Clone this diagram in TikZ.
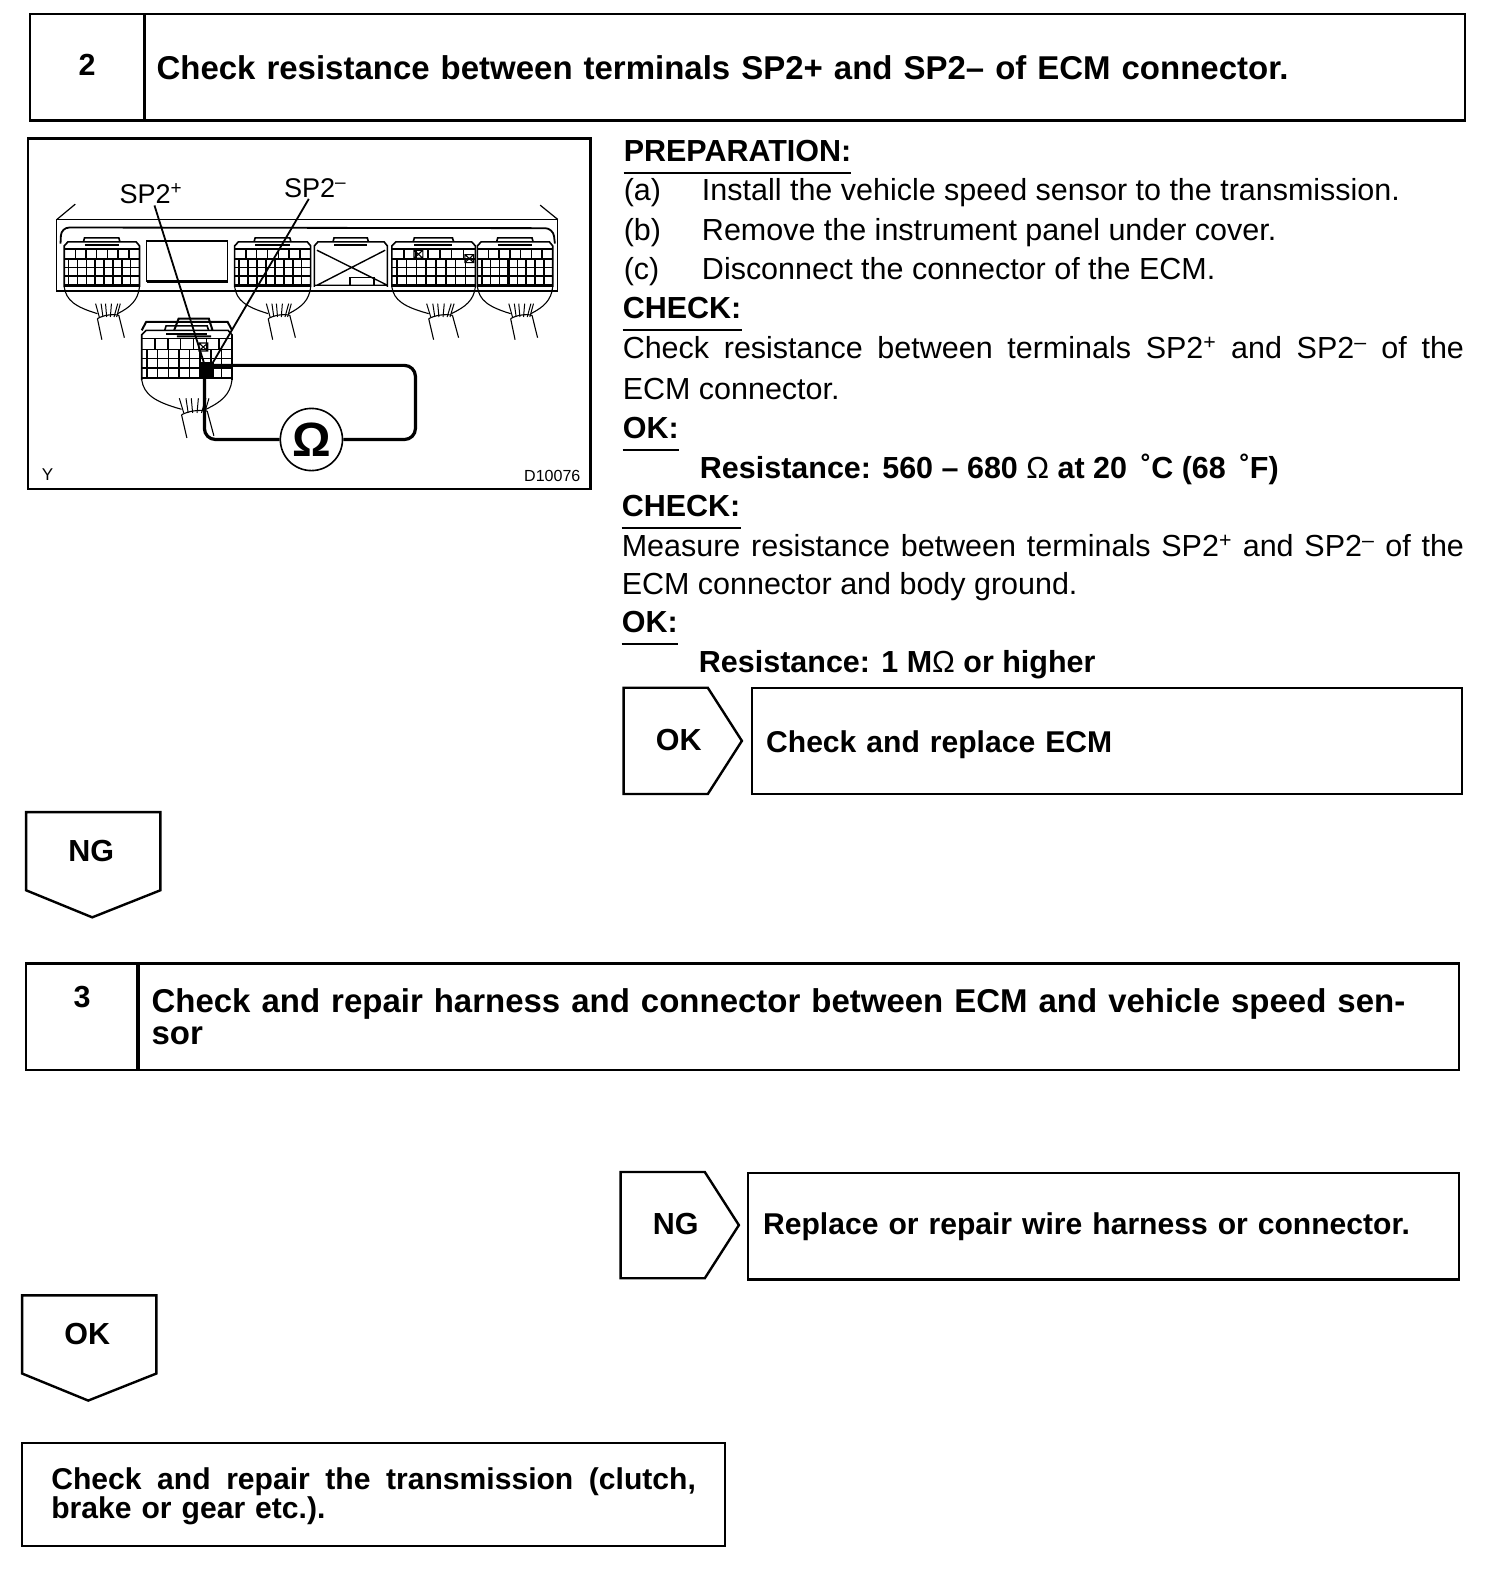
\documentclass[tikz,border=0pt]{standalone}
\usepackage{fontspec}
\setmainfont{Liberation Sans}
\newcommand{\txtfont}{\fontsize{30.4}{32}\selectfont}
\newcommand{\hdfont}{\fontsize{32.9}{32}\selectfont}
\newcommand{\boxfont}{\fontsize{30}{32}\selectfont}
\newcommand{\connbody}{
\draw[line width=1.6pt] (0,135) -- (0,12) -- (10,0) -- (195,0) -- (204,12) -- (204,135);
\draw[line width=1.6pt] (52,0) -- (55,-12) -- (148,-12) -- (151,0);
\draw[line width=2pt] (55,10) -- (148,10);
}
\tikzset{
crossbody/.pic={\connbody},
conn/.pic={
\connbody
\foreach \y in {22,52,77,102} {\draw[line width=1.5pt] (0,\y) -- (204,\y);}
\draw[line width=2.8pt] (0,130) -- (204,130);
\foreach \x in {30,59,...,190} {\draw[line width=1.5pt] (\x,22) -- (\x,52);}
\foreach \x in {12,36,...,200} {\draw[line width=1.5pt] (\x,52) -- (\x,130);}
\foreach \x in {84,132} {\draw[line width=2.4pt] (\x,52) -- (\x,130);}
},
hood/.pic={
\draw[line width=1.1pt] (0,135) .. controls (5,175) and (30,195) .. (90,215);
\draw[line width=1.1pt] (204,135) .. controls (200,175) and (180,195) .. (145,215);
\draw[line width=1.1pt] (90,230) -- (102,293);
\draw[line width=1.1pt] (148,220) -- (163,287);
\draw[line width=1.1pt] (90,230) .. controls (105,220) and (130,215) .. (148,220);
\foreach \xa/\xb in {95/85,105/100,115/112,125/128,135/145,142/152} {\draw[line width=1pt] (\xa,225) -- (\xb,185);}
}
}
\begin{document}
\begin{tikzpicture}[
x=1pt, y=-1pt,
cell/.style={draw, line width=2.4pt, anchor=north west, minimum height=106pt, inner xsep=14pt, inner ysep=0pt, align=left, font=\boxfont\bfseries},
numcell/.style={draw, line width=2.4pt, anchor=north west, minimum height=106pt, align=center},
pent/.style={draw, line width=2.4pt, line join=miter},
tag/.style={font=\txtfont\bfseries, inner sep=0pt},
line/.style={anchor=base west, inner sep=0pt, font=\txtfont},
strong/.style={anchor=base west, inner sep=0pt, font=\txtfont\bfseries},
head/.style={anchor=base west, inner xsep=0pt, inner ysep=11pt, font=\txtfont\bfseries},
probe/.style={line width=1.8pt},
wire/.style={line width=3.2pt, rounded corners=11pt},
lbl/.style={font=\fontsize{27}{28}\selectfont, inner sep=1pt}
]
\useasboundingbox (0,0) rectangle (1500,1568);
\node[numcell, minimum width=114pt] (num2) at (29,13) {};
\node[tag] (numtxt2) at (87,65) {2};
\node[cell, minimum width=1317pt, text width=1293pt, inner xsep=12pt, font=\hdfont\bfseries] (step2) at (143,13) {Check resistance between terminals SP2+ and SP2– of ECM connector.};
\draw[line width=2.4pt] (28,138) rectangle (589,488);
\begin{scope}[shift={(19.9,129.7)}, x=.368pt, y=-.333pt]
\draw[line width=1.2pt] (100,268) rectangle (1458,482);
\draw[line width=1.2pt] (100,268) -- (150,222) (1458,268) -- (1410,225);
\draw[line width=1.8pt, rounded corners=8pt] (110,340) -- (112,292) -- (1445,294) -- (1450,340);
\draw[line width=1.6pt] (343,333) rectangle (563,452);
\draw[line width=1.4pt] (345,455) -- (565,455);
\pic at (120,335) {conn};
\pic at (120,335) {hood};
\pic[xscale=1.01] at (582,335) {conn};
\pic[xscale=1.01] at (582,335) {hood};
\pic[xscale=.97] at (798,335) {crossbody};
\draw[line width=1.4pt] (798,465) -- (996,465) (805,360) -- (996,465) (805,465) -- (990,360);
\draw[line width=1.4pt] (895,465) -- (895,442) -- (960,442) -- (960,465);
\pic[xscale=1.11] at (1008,335) {conn};
\pic[xscale=1.11] at (1008,335) {hood};
\pic at (1240,335) {conn};
\pic at (1240,335) {hood};
\pic[xscale=1.2, yscale=1.1] at (330,600) {conn};
\pic[xscale=1.2, yscale=1.1] at (330,600) {hood};
\draw[line width=2pt] (330,600) -- (342,575) -- (563,575) -- (575,600);
\draw[line width=2pt] (418,600) -- (430,565) -- (512,565) -- (522,600) (425,618) -- (518,618);
\foreach \cx/\cy in {1080/372,1218/385,497/650} {\draw[line width=1.1pt] (\cx-12,\cy-12) rectangle (\cx+12,\cy+12) (\cx-12,\cy-12) -- (\cx+12,\cy+12) (\cx-12,\cy+12) -- (\cx+12,\cy-12);}
\fill (490,695) rectangle (525,745);
\coordinate (plus) at (500,702);
\coordinate (minus) at (520,702);
\coordinate (joint) at (505,705);
\coordinate (jointb) at (500,745);
\node[lbl] (spplus) at (355,192) {SP2\textsuperscript{+}};
\node[lbl] (spminus) at (800,174) {SP2\textsuperscript{--}};
\draw[probe] (spplus) -- (plus);
\draw[probe] (spminus) -- (minus);
\node[draw, circle, line width=1.6pt, fill=white, minimum size=62pt, inner sep=0pt, font=\fontsize{48}{50}\selectfont\bfseries] (meter) at (790,927) {Ω};
\draw[wire] (meter.east) -- (1072,927) -- (1072,705) -- (joint);
\draw[wire] (meter.west) -- (500,927) -- (jointb);
\node[font=\fontsize{17}{19}\selectfont, inner sep=0pt] (ymark) at (75,1032) {Y};
\node[font=\fontsize{16}{18}\selectfont, inner sep=0pt] (figid) at (1443,1036) {D10076};
\end{scope}
\node[head] (h1) at (622,161) {PREPARATION:};
\node[line] (pa) at (622,200) {(a)};
\node[line] (ta) at (700,200) {Install the vehicle speed sensor to the transmission.};
\node[line] (pb) at (622,240) {(b)};
\node[line] (tb) at (700,240) {Remove the instrument panel under cover.};
\node[line] (pc) at (622,279) {(c)};
\node[line] (tc) at (700,279) {Disconnect the connector of the ECM.};
\node[head] (h2) at (621,318) {CHECK:};
\node[line] (l1) at (621,358) {\makebox[839pt][s]{Check resistance between terminals SP2\textsuperscript{+} and SP2\textsuperscript{--} of the}};
\node[line] (l2) at (621,398) {ECM connector.};
\node[head] (h3) at (621,437) {OK:};
\node[strong] (r1) at (698,477) {Resistance: 560 – 680 {\normalfont Ω} at 20\hspace{14pt}˚C (68\hspace{14pt}˚F)};
\node[head] (h4) at (620,515) {CHECK:};
\node[line] (l3) at (620,555) {\makebox[840pt][s]{Measure resistance between terminals SP2\textsuperscript{+} and SP2\textsuperscript{--} of the}};
\node[line] (l4) at (620,593) {ECM connector and body ground.};
\node[head] (h5) at (620,631) {OK:};
\node[strong] (r2) at (697,671) {Resistance: 1 M{\normalfont Ω} or higher};
\foreach \h in {h1,h2,h3,h4,h5} {\draw[line width=1.8pt] (\h.south west) -- (\h.south east);}
\foreach \x/\y/\lab/\nm in {622/686/OK/pok,619/1169/NG/png} {
\draw[pent] (\x,\y) -- (\x+84,\y) -- (\x+118,\y+53) -- (\x+84,\y+106) -- (\x,\y+106) -- cycle;
\node[tag] (\nm) at (\x+55,\y+52) {\lab};
}
\foreach \x/\y/\lab/\nm in {26/810/NG/dng,22/1292/OK/dok} {
\draw[pent] (\x,\y) -- (\x+134,\y) -- (\x+134,\y+78) -- (\x+66,\y+105) -- (\x,\y+78) -- cycle;
\node[tag] (\nm) at (\x+65,\y+39) {\lab};
}
\node[cell, minimum width=708pt, text width=680pt] (act1) at (749,685) {\rule{0pt}{28pt}Check and replace ECM};
\node[numcell, minimum width=112pt] (num3) at (25,960) {};
\node[tag] (numtxt3) at (82,994) {3};
\node[cell, minimum width=1318pt, text width=1290pt, font=\hdfont\bfseries] (step3) at (136,960) {Check and repair harness and connector between ECM and vehicle speed sen-\\sor};
\node[cell, minimum width=709pt, text width=679pt, inner xsep=15pt] (act2) at (745,1169) {Replace or repair wire harness or connector.};
\node[cell, minimum width=701pt, minimum height=103pt, text width=643pt, inner xsep=29pt, font=\fontsize{30}{29}\selectfont\bfseries] (act3) at (21,1438) {\rule{0pt}{26pt}\makebox[643pt][s]{\spaceskip=0pt Check and repair the transmission (clutch,}\\brake or gear etc.).};
\end{tikzpicture}
\end{document}
